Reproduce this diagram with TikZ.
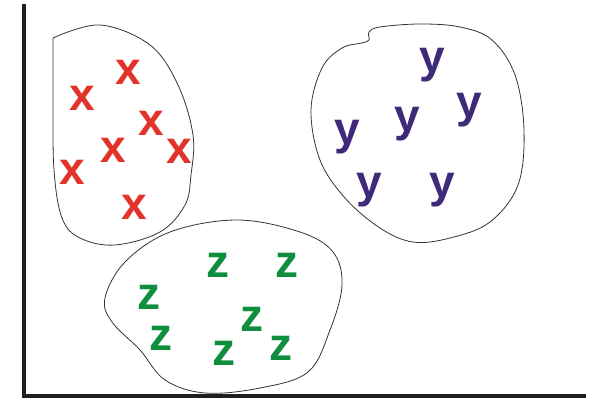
\documentclass[tikz,border=0pt]{standalone}
\usepackage{fontspec}
\setmainfont{Liberation Sans}
\definecolor{xred}{HTML}{E2332A}
\definecolor{ypurple}{HTML}{3E2A78}
\definecolor{zgreen}{HTML}{0F8F3E}
\definecolor{axisgray}{HTML}{1E1E1E}
\begin{document}
\begin{tikzpicture}[x=1pt,y=-1pt,
  blob/.style={draw=black!80, line width=0.8pt},
  axisline/.style={draw=axisgray, line width=4pt},
  lx/.style={text=xred, font=\fontsize{46}{46}\selectfont\bfseries, inner sep=0pt, anchor=base},
  ly/.style={text=ypurple, font=\fontsize{46}{46}\selectfont\bfseries, inner sep=0pt, anchor=base},
  lz/.style={text=zgreen, font=\fontsize{46}{46}\selectfont\bfseries, inner sep=0pt, anchor=base}]
\useasboundingbox (0,0) rectangle (598,401);
% axes
\coordinate (top) at (24,4);
\coordinate (origin) at (24,396);
\coordinate (right) at (586,396);
\draw[axisline] (top) -- (origin) -- (right);
% x blob
\draw[blob] plot[smooth, tension=0.6] coordinates {(53,38) (100,25) (150,45) (178,85) (193,135) (191,175) (185,205) (160,232) (115,245) (80,238) (62,218) (54,170) (53,100) (53,38)};
% y blob
\draw[blob] plot[smooth cycle, tension=0.6] coordinates {(311,110) (322,68) (342,48) (362,43) (369,40) (369,32) (380,27) (420,24) (460,27) (492,40) (515,75) (524,130) (518,185) (490,222) (450,238) (413,242) (380,228) (345,198) (320,160)};
% z blob
\draw[blob] plot[smooth cycle, tension=0.6] coordinates {(105,298) (125,262) (170,232) (237,220) (300,232) (333,252) (342,285) (330,330) (308,372) (260,388) (205,393) (165,380) (140,350) (112,322)};
% x letters
\node[lx] (x1) at (128,85) {x};
\node[lx] (x2) at (82,111) {x};
\node[lx] (x3) at (151,136) {x};
\node[lx] (x4) at (113,163) {x};
\node[lx] (x5) at (179,164) {x};
\node[lx] (x6) at (72,185) {x};
\node[lx] (x7) at (134,220) {x};
% y letters
\node[ly] (y1) at (432,73) {y};
\node[ly] (y2) at (469,118) {y};
\node[ly] (y3) at (407,132) {y};
\node[ly] (y4) at (347,145) {y};
\node[ly] (y5) at (369,198) {y};
\node[ly] (y6) at (442,198) {y};
% z letters
\node[lz] (z1) at (218,278) {z};
\node[lz] (z2) at (287,278) {z};
\node[lz] (z3) at (149,309) {z};
\node[lz] (z4) at (252,331) {z};
\node[lz] (z5) at (161,350) {z};
\node[lz] (z6) at (281,360) {z};
\node[lz] (z7) at (224,366) {z};
\end{tikzpicture}
\end{document}
